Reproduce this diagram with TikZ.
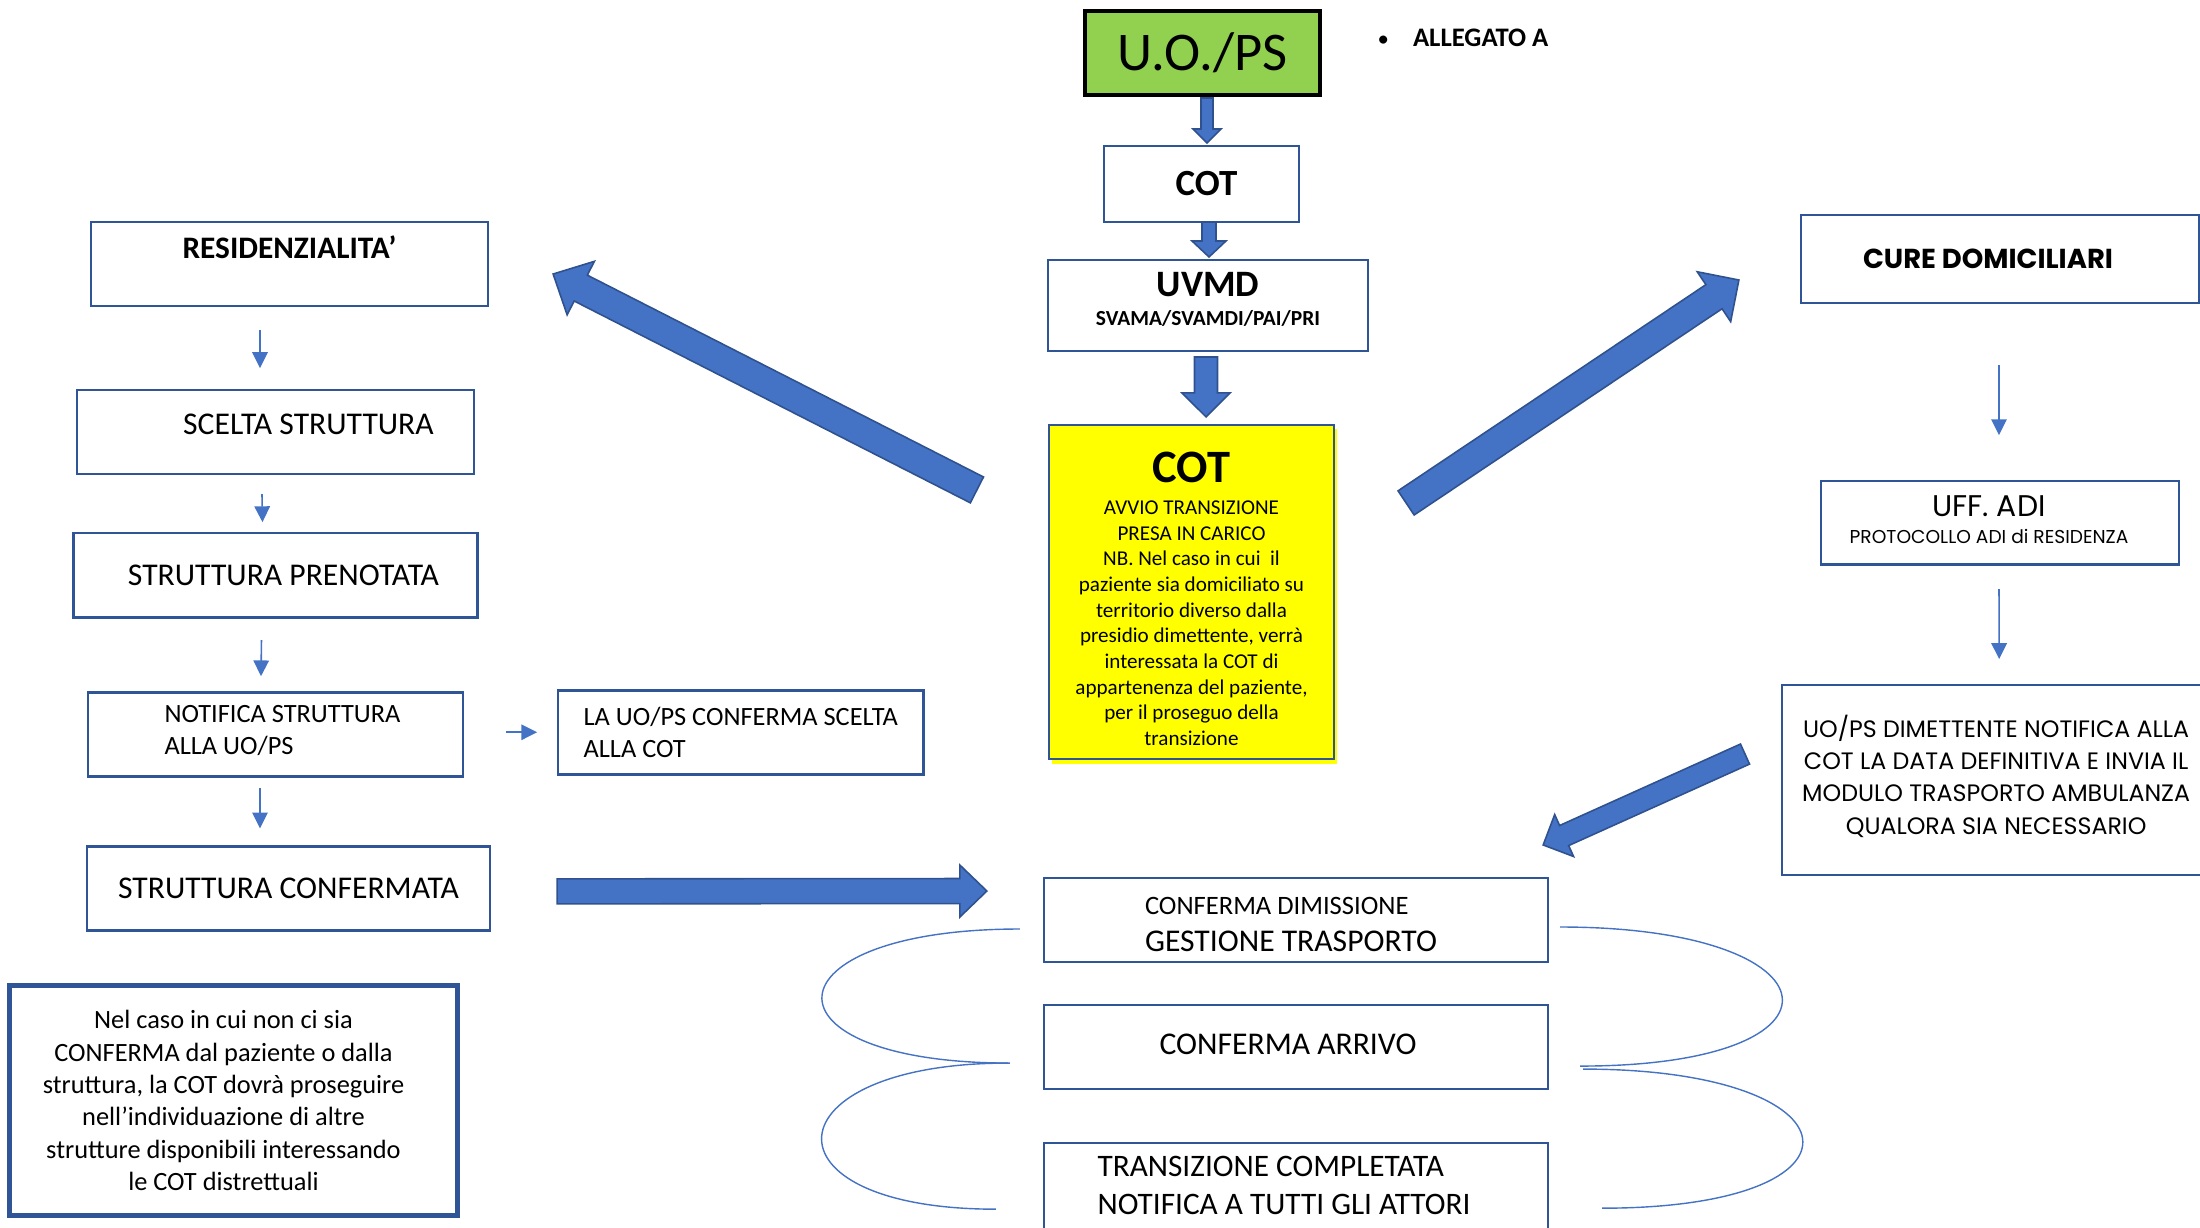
\documentclass[tikz,border=0pt]{standalone}
\usepackage{fontspec}
\setmainfont{Carlito}
\newfontfamily\gothic{Poppins}
\usetikzlibrary{positioning,calc,arrows.meta,shadows}
\definecolor{boxblue}{HTML}{2F5597}
\definecolor{arrowblue}{HTML}{4472C4}
\definecolor{arrowedge}{HTML}{2F528F}
\definecolor{uogreen}{HTML}{92D050}
\definecolor{cotyellow}{HTML}{FFFF00}
\newcommand{\blockarrow}[5]{%
      \coordinate (ba-s) at #1;
      \coordinate (ba-e) at #2;
      \coordinate (ba-h) at ($(ba-e)!#5!(ba-s)$);
      \filldraw[blockar] ($(ba-s)!#3!90:(ba-e)$) -- ($(ba-h)!#3!-90:(ba-s)$)
        -- ($(ba-h)!#4!-90:(ba-s)$) -- (ba-e) -- ($(ba-h)!#4!90:(ba-s)$)
        -- ($(ba-h)!#3!90:(ba-s)$) -- ($(ba-s)!#3!-90:(ba-e)$) -- cycle;}
\begin{document}
\begin{tikzpicture}[x=0.01cm,y=-0.01cm,
        flowbox/.style={draw=boxblue, line width=0.75pt, inner sep=0pt, outer sep=0pt, align=center},
        bigtxt/.style={font=\fontsize{9}{11}\selectfont},
        midtxt/.style={font=\fontsize{7.5}{9.2}\selectfont},
        gothtxt/.style={font=\gothic\fontsize{6.75}{9.2}\selectfont},
        thinarrow/.style={draw=arrowblue, line width=0.45pt, -{Triangle[width=4.4pt,length=4.5pt]}},
        loopline/.style={draw=arrowblue, line width=0.4pt},
        blockar/.style={fill=arrowblue, draw=arrowedge, line width=0.45pt}]
      \useasboundingbox (0,0) rectangle (2200,1227);
      \node[flowbox, draw=black, line width=1pt, fill=uogreen, minimum width=2.35cm, minimum height=0.84cm, font=\fontsize{15.5}{18}\selectfont] (uops) at (1202.5,53) {U.O./PS};
      \node[anchor=west, inner sep=0pt, font=\bfseries\fontsize{7.6}{9}\selectfont] (allegato) at (1377,38) {{\mdseries\fontsize{6.5}{8}\selectfont\textbullet}\hspace{6.8pt}ALLEGATO A};
      \node[flowbox, minimum width=1.95cm, minimum height=0.76cm, label={[font=\bfseries\fontsize{10.5}{12}\selectfont, xshift=0.05cm]center:COT}] (cot1) at (1201.5,184) {};
      \node[flowbox, minimum width=3.2cm, minimum height=0.91cm, label={[align=center, font=\bfseries, yshift=0.065cm]center:{\fontsize{10.6}{12}\selectfont UVMD}\\[-3.7pt]{\fontsize{6.1}{8}\selectfont SVAMA/SVAMDI/PAI/PRI}}] (uvmd) at (1208,305.5) {};
      \node[flowbox, fill=cotyellow, general shadow={fill=cotyellow, shadow xshift=0.03cm, shadow yshift=-0.045cm}, minimum width=2.85cm, minimum height=3.34cm, font=\fontsize{6}{7.3}\selectfont] (cot2) at (1191.5,592) {{\bfseries\fontsize{13.2}{14}\selectfont\rule{0pt}{12.6pt}COT}\\[1.8pt]
        AVVIO TRANSIZIONE\\PRESA IN CARICO\\NB. Nel caso in cui\ \ il\\paziente sia domiciliato su\\territorio diverso dalla\\presidio dimettente, verrà\\interessata la COT di\\appartenenza del paziente,\\per il proseguo della\\transizione};

      \node[flowbox, minimum width=3.97cm, minimum height=0.84cm, label={[font=\bfseries\fontsize{8.9}{11}\selectfont, yshift=0.17cm]center:RESIDENZIALITA’}] (res) at (289.5,264) {};
      \node[flowbox, minimum width=3.97cm, minimum height=0.84cm, below=0.84cm of res, xshift=-0.14cm, label={[bigtxt, xshift=0.33cm, yshift=0.08cm]center:SCELTA STRUTTURA}] (scelta) {};
      \node[flowbox, minimum width=4.04cm, minimum height=0.84cm, below=0.59cm of scelta, label={[bigtxt, xshift=0.08cm]center:STRUTTURA PRENOTATA}] (pren) {};
      \node[flowbox, minimum width=3.75cm, minimum height=0.84cm, below=0.75cm of pren, label={[midtxt, align=left, xshift=0.07cm, yshift=0.04cm]center:NOTIFICA STRUTTURA\\ALLA UO/PS}] (notif) {};
      \node[flowbox, minimum width=4.03cm, minimum height=0.84cm, below=0.70cm of notif, xshift=0.13cm, bigtxt] (confermata) {STRUTTURA CONFERMATA};
      \node[flowbox, minimum width=3.65cm, minimum height=0.84cm, right=0.95cm of notif, yshift=0.02cm, midtxt, align=left] (confsc) {LA UO/PS CONFERMA SCELTA\\ALLA COT};
      \node[flowbox, line width=1.4pt, minimum width=4.47cm, minimum height=2.29cm, label={[midtxt, align=center, xshift=-0.1cm]center:Nel caso in cui non ci sia\\CONFERMA dal paziente o dalla\\struttura, la COT dovrà proseguire\\nell’individuazione di altre\\strutture disponibili interessando\\le COT distrettuali}] (note) at (233.5,1100.5) {};

      \node[flowbox, minimum width=5.04cm, minimum height=0.84cm, label={[align=left, xshift=-0.05cm, yshift=-0.045cm]center:{\fontsize{7.55}{9}\selectfont CONFERMA DIMISSIONE}\\[-1.4pt]{\fontsize{9}{11}\selectfont GESTIONE TRASPORTO}}] (gest) at (1296,920) {};
      \node[flowbox, minimum width=5.04cm, minimum height=0.84cm, below=0.43cm of gest, label={[bigtxt, xshift=-0.08cm, yshift=0.03cm]center:CONFERMA ARRIVO}] (arrivo) {};
      \node[flowbox, minimum width=5.04cm, minimum height=1.57cm, below=0.54cm of arrivo, label={[align=left, font=\fontsize{8.9}{10.8}\selectfont, xshift=-0.12cm, yshift=0.365cm]center:TRANSIZIONE COMPLETATA\\NOTIFICA A TUTTI GLI ATTORI}] (compl) {};

      \node[flowbox, minimum width=3.98cm, minimum height=0.88cm, label={[font=\gothic\bfseries\fontsize{7.8}{9}\selectfont, xshift=-0.12cm]center:CURE DOMICILIARI}] (cure) at (2000,259) {};
      \node[flowbox, minimum width=3.58cm, minimum height=0.83cm, below=1.78cm of cure, label={[align=center, xshift=-0.11cm, yshift=0.03cm]center:{\gothic\fontsize{8.5}{10}\selectfont UFF. ADI}\\[-4.4pt]{\gothic\fontsize{5.3}{7}\selectfont PROTOCOLLO ADI di RESIDENZA}}] (uffadi) {};
      \node[flowbox, minimum width=4.28cm, minimum height=1.90cm, anchor=north west, label={[gothtxt, align=center, yshift=0.04cm]center:UO/PS DIMETTENTE NOTIFICA ALLA\\COT LA DATA DEFINITIVA E INVIA IL\\MODULO TRASPORTO AMBULANZA\\QUALORA SIA NECESSARIO}] (dimett) at (1782,685) {};

      \blockarrow{([xshift=0.045cm,yshift=-0.03cm]uops.south)}{([xshift=0.055cm,yshift=0.03cm]cot1.north)}{0.06cm}{0.14cm}{0.14cm}
      \blockarrow{([xshift=0.075cm]cot1.south)}{([xshift=0.01cm,yshift=0.03cm]uvmd.north)}{0.07cm}{0.17cm}{0.16cm}
      \blockarrow{([xshift=-0.02cm,yshift=-0.06cm]uvmd.south)}{([xshift=0.145cm,yshift=0.08cm]cot2.north)}{0.115cm}{0.24cm}{0.24cm}
      \blockarrow{($(cot2.north west)+(-72,65)$)}{($(res.east)+(65,10)$)}{0.145cm}{0.30cm}{0.31cm}
      \blockarrow{($(cot2.north east)+(72,78)$)}{($(cure.west)+(-62,21)$)}{0.145cm}{0.30cm}{0.30cm}
      \blockarrow{($(dimett.west)+(-37,-26)$)}{($(gest.north east)+(-5,-33)$)}{0.11cm}{0.23cm}{0.23cm}
      \blockarrow{($(confermata.east)+(67,3)$)}{($(gest.west)+(-57,-29)$)}{0.125cm}{0.26cm}{0.27cm}

      \draw[thinarrow] ([xshift=-0.295cm,yshift=-0.24cm]res.south) -- ([xshift=-0.155cm,yshift=0.22cm]scelta.north);
      \draw[thinarrow] ([xshift=-0.135cm,yshift=-0.20cm]scelta.south) -- ([xshift=-0.13cm,yshift=0.11cm]pren.north);
      \draw[thinarrow] ([xshift=-0.14cm,yshift=-0.23cm]pren.south) -- ([xshift=-0.145cm,yshift=0.16cm]notif.north);
      \draw[thinarrow] ([xshift=-0.155cm,yshift=-0.12cm]notif.south) -- ([xshift=-0.285cm,yshift=0.18cm]confermata.north);
      \draw[thinarrow] ([xshift=0.43cm,yshift=0.02cm]notif.east) -- ([xshift=-0.21cm]confsc.west);
      \draw[thinarrow] ([xshift=-0.01cm,yshift=-0.62cm]cure.south) -- ([xshift=-0.01cm,yshift=0.46cm]uffadi.north);
      \draw[thinarrow] ([xshift=-0.01cm,yshift=-0.25cm]uffadi.south) -- ([xshift=0.03cm,yshift=0.26cm]dimett.north);

      \draw[loopline] ($(gest.west)+(-24,9)$) to[out=180,in=180,looseness=4.9] ($(arrivo.west)+(-34,16)$);
      \draw[loopline] ($(arrivo.west)+(-36,16)$) to[out=180,in=180,looseness=4.2] ($(compl.west)+(-48,-12.5)$);
      \draw[loopline] ($(gest.east)+(12,7)$) to[out=0,in=0,looseness=5.15] ($(arrivo.east)+(32,19)$);
      \draw[loopline] ($(arrivo.east)+(35,22)$) to[out=0,in=0,looseness=5.1] ($(compl.east)+(54,-13.5)$);
    \end{tikzpicture}
\end{document}
